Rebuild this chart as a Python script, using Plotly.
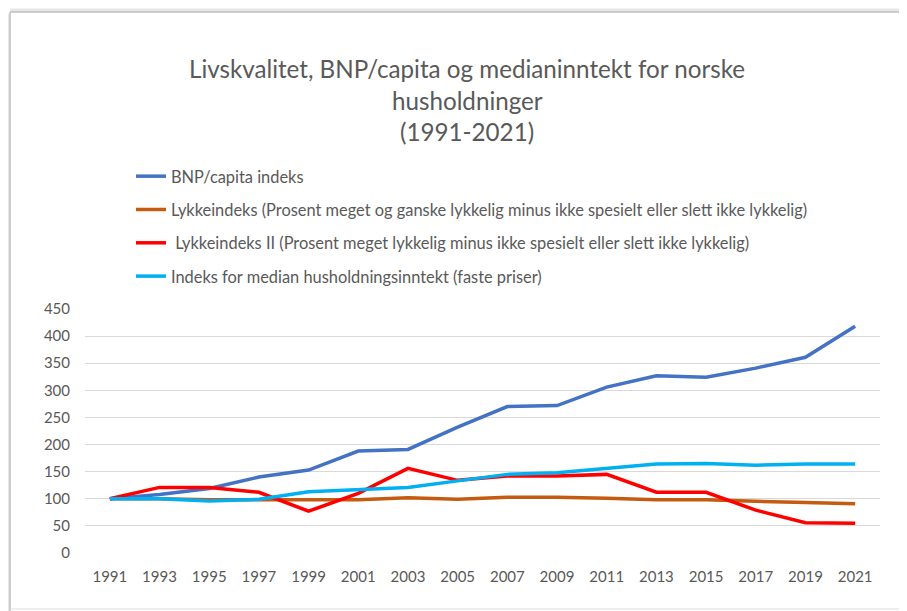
import plotly.graph_objects as go

years = [str(y) for y in range(1991, 2022, 2)]
bnp = [100, 108, 119, 140, 153, 188, 191, 232, 270, 272, 306, 327, 324, 341, 361, 418]
lykke = [100, 100, 98, 98, 97, 98, 102, 99, 103, 103, 101, 98, 98, 95, 93, 91]
lykke2 = [100, 121, 121, 112, 77, 110, 156, 134, 142, 142, 145, 112, 112, 79, 56, 55]
median = [100, 100, 96, 99, 113, 117, 121, 133, 145, 148, 156, 164, 165, 162, 164, 164]
y_ticks = [0, 50, 100, 150, 200, 250, 300, 350, 400, 450]

names = [
    "BNP/capita indeks",
    "Lykkeindeks (Prosent meget og ganske lykkelig minus ikke spesielt eller slett ikke lykkelig)",
    " Lykkeindeks II (Prosent meget lykkelig minus ikke spesielt eller slett ikke lykkelig)",
    "Indeks for median husholdningsinntekt (faste priser)",
]
series = [bnp, lykke, lykke2, median]
colors = ["#4472C4", "#C55A11", "#FF0000", "#00B0F0"]

OFF = 8  # page body margin
W, H = 907 - OFF, 611 - OFF
# plot area in screen pixels: x 85..880, y 309..553
L, R, T, B = 85 - OFF, 907 - 880, 309 - OFF, 611 - 553
pw, ph = W - L - R, H - T - B

def px(x):
    return (x - OFF - L) / pw

def py(y):
    return (H - B - (y - OFF)) / ph

fig = go.Figure()
for i, (nm, s, c) in enumerate(zip(names, series, colors)):
    fig.add_trace(go.Scatter(x=years, y=s, name=nm, mode="lines",
                             line=dict(color=c, width=3.5),
                             legendgroup=f"g{i}"))

font_family = "Lato, 'Open Sans', sans-serif"
grey = "#595959"

title_lines = ["Livskvalitet, BNP/capita og medianinntekt for norske", "husholdninger", "(1991-2021)"]
title_y = [68, 100, 131]
annotations = []
for t, yy in zip(title_lines, title_y):
    annotations.append(dict(text=t, xref="paper", yref="paper", x=px(467), y=py(yy),
                            xanchor="center", yanchor="middle", showarrow=False,
                            font=dict(size=24.2, color=grey, family=font_family)))

shapes = [
    # screenshot frame with soft shadow
    dict(type="line", xref="paper", yref="paper", x0=px(8), x1=px(8), y0=py(14), y1=py(611), line=dict(color="#E6E6E6", width=3)),
    dict(type="line", xref="paper", yref="paper", x0=px(10), x1=px(10), y0=py(12), y1=py(611), line=dict(color="#BDBDBD", width=1.5)),
    dict(type="line", xref="paper", yref="paper", x0=px(10), x1=px(907), y0=py(10), y1=py(10), line=dict(color="#E6E6E6", width=3)),
    dict(type="line", xref="paper", yref="paper", x0=px(10), x1=px(907), y0=py(12), y1=py(12), line=dict(color="#BDBDBD", width=1.5)),
    dict(type="line", xref="paper", yref="paper", x0=px(10), x1=px(907), y0=py(609), y1=py(609), line=dict(color="#DDDDDD", width=1)),
]

fig.update_layout(
    width=W, height=H,
    margin=dict(l=L, r=R, t=T, b=B),
    paper_bgcolor="white", plot_bgcolor="white",
    font=dict(family=font_family, color=grey),
    showlegend=True,
    legend=dict(x=px(131), y=py(159), xanchor="left", yanchor="top",
                orientation="v", font=dict(size=16.4, color=grey, family=font_family),
                tracegroupgap=9, bgcolor="rgba(0,0,0,0)", itemwidth=30),
    xaxis=dict(type="category", range=[-0.5, 15.5], showgrid=False, showline=False,
               ticks="", tickfont=dict(size=15, color=grey), ticklabelstandoff=13),
    yaxis=dict(range=[0, 450], tickvals=y_ticks, showgrid=True, gridcolor="#D9D9D9",
               gridwidth=1.3, zeroline=False, showline=False, ticks="",
               tickfont=dict(size=15, color=grey), ticklabelstandoff=14),
    annotations=annotations,
    shapes=shapes,
)

fig.write_html("out.html")
